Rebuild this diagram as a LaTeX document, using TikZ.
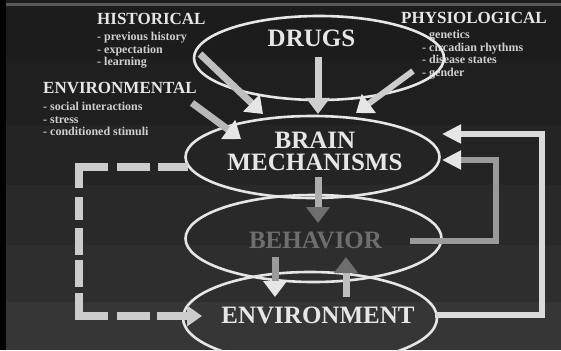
\documentclass[tikz,border=0pt]{standalone}
\usepackage{fontspec}
\setmainfont{Liberation Serif}
\usetikzlibrary{positioning,shapes.geometric,arrows.meta}
\definecolor{ink}{HTML}{E6E6E6}
\definecolor{dim}{HTML}{6E6E6E}
\definecolor{mid}{HTML}{9A9A9A}

\begin{document}
\begin{tikzpicture}[x=1pt,y=-1pt,
    bubble/.style={ellipse, draw=ink, line width=2.6pt, inner sep=0pt},
    bigtext/.style={font=\fontsize{25}{22}\selectfont\bfseries, text=ink, inner sep=0pt, align=center},
    headtext/.style={font=\fontsize{17}{17}\selectfont\bfseries, text=ink, inner sep=0pt},
    itemtext/.style={font=\fontsize{12}{12.5}\selectfont\bfseries, text=ink!90!black, inner sep=0pt, align=left},
    shaft/.style={line width=7pt},
    bigarrow/.style={-{Triangle[length=16pt,width=23pt,#1]}},
    bigarrow/.default={},
    sidearrow/.style={-{Triangle[length=19pt,width=18pt,#1]}},
    sidearrow/.default={}]
    \useasboundingbox (0,0) rectangle (561,350);
    % background
    \foreach \ya/\yb/\g in {0/60/11, 60/125/12, 125/185/14, 185/245/16, 245/302/18, 302/350/21}
        \fill[white!\g!black] (0,\ya) rectangle (561,\yb);
    \fill[black] (0,0) rectangle (6,350);
    \fill[white!35!black] (6,3) rectangle (561,6);

    % side factors
    \node (hist) at (97,25) [headtext, anchor=base west] {HISTORICAL};
    \node (histlist) at (97,32) [itemtext, anchor=north west] {- previous history\\- expectation\\- learning};
    \node (envir) at (43,93) [headtext, anchor=base west] {ENVIRONMENTAL};
    \node (envirlist) at (43,102) [itemtext, anchor=north west] {- social interactions\\- stress\\- conditioned stimuli};
    \node (phys) at (401,24) [headtext, anchor=base west] {PHYSIOLOGICAL};
    \node (physlist) at (422,30) [itemtext, anchor=north west] {- genetics\\- circadian rhythms\\- disease states\\- gender};

    % ellipses
    \node (drugs) at (319,58) [bubble, minimum width=250pt, minimum height=84pt] {};
    \node (brain) at (312.5,157) [bubble, minimum width=254pt, minimum height=82pt] {};
    \node (behavior) at (313.5,238.5) [bubble, minimum width=256pt, minimum height=87pt] {};
    \node (environment) at (310,318) [bubble, minimum width=254pt, minimum height=92pt] {};

    % arrows into brain
    \coordinate (d1) at (318,57);
    \coordinate (d2) at (318,114);
    \draw[shaft, bigarrow, draw=ink!90!black] (d1) -- (d2);
    \coordinate (h1) at (200,54);
    \coordinate (h2) at (263,114);
    \draw[shaft, bigarrow={color=ink}, draw=white!75!black] (h1) -- (h2);
    \coordinate (p1) at (413,71);
    \coordinate (p2) at (356,113);
    \draw[line width=6pt, bigarrow={color=ink}, draw=white!80!black] (p1) -- (p2);
    \coordinate (e1) at (192,103);
    \coordinate (e2) at (241,139);
    \draw[shaft, bigarrow={color=ink}, draw=white!72!black] (e1) -- (e2);

    % between the ellipses
    \coordinate (m1) at (318,177);
    \coordinate (m2) at (318,223);
    \draw[shaft, bigarrow={color=dim}, draw=white!68!black] (m1) -- (m2);
    \coordinate (b1) at (275,257);
    \coordinate (b2) at (275,297);
    \draw[shaft, bigarrow={color=ink}, draw=mid] (b1) -- (b2);
    \coordinate (v1) at (346,297);
    \coordinate (v2) at (346,257);
    \draw[shaft, bigarrow={color=dim}, draw=white!75!black] (v1) -- (v2);

    % feedback loops
    \coordinate (l1) at (410,240.5);
    \coordinate (l3) at (496,160);
    \coordinate (l4) at (442,160);
    \draw[line width=6pt, sidearrow={color=ink}, draw=mid] (l1) -| (l3) -- (l4);
    \coordinate (n1) at (435,315);
    \coordinate (n3) at (542,134);
    \coordinate (n4) at (442,134);
    \draw[line width=6pt, sidearrow={color=ink}, draw=ink!95!black] (n1) -| (n3) -- (n4);
    \coordinate (k1) at (188,167);
    \coordinate (k2) at (79,316);
    \coordinate (k3) at (202,316);
    \draw[line width=8pt, draw=white!80!black, -{Triangle[length=15pt,width=20pt]},
        dash pattern=on 30pt off 8pt on 33pt off 9pt on 50pt off 9pt on 23pt off 8pt on 27pt off 5pt on 27pt off 6pt on 52pt off 9pt on 33pt off 7pt on 100pt off 1pt]
        (k1) -| (k2) -- (k3);

    % labels
    \node (drugslabel) at (311.5,47) [bigtext, anchor=base] {DRUGS};
    \node (brainlabel) at (315,131.5) [bigtext, anchor=north] {BRAIN\\MECHANISMS};
    \node (behaviorlabel) at (315.5,248) [bigtext, anchor=base, text=dim] {BEHAVIOR};
    \node (envlabel) at (318,323) [bigtext, anchor=base] {ENVIRONMENT};
\end{tikzpicture}
\end{document}
